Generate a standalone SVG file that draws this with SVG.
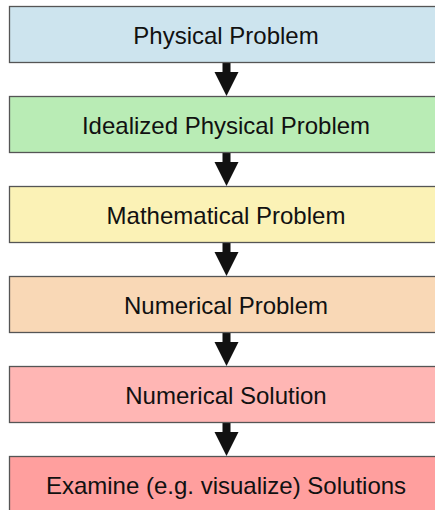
<svg xmlns="http://www.w3.org/2000/svg" width="435" height="510" viewBox="0 0 435 510">
<defs>
<style>
.box{stroke:#555;stroke-width:1.3}
.lbl{font-family:"Liberation Sans",Arial,sans-serif;font-size:24px;fill:#111;text-anchor:middle}
.arr{fill:#111}
</style>
</defs>
<rect width="435" height="510" fill="#fff"/>
<g id="connectors">
<path class="arr" d="M222.5,62 H230.5 V72 H238.5 L226.5,96 L214.5,72 H222.5 Z"/>
<path class="arr" d="M222.5,152 H230.5 V162 H238.5 L226.5,186 L214.5,162 H222.5 Z"/>
<path class="arr" d="M222.5,242 H230.5 V252 H238.5 L226.5,276 L214.5,252 H222.5 Z"/>
<path class="arr" d="M222.5,332 H230.5 V342 H238.5 L226.5,366 L214.5,342 H222.5 Z"/>
<path class="arr" d="M222.5,422 H230.5 V432 H238.5 L226.5,456 L214.5,432 H222.5 Z"/>
</g>
<g id="n1"><rect class="box" x="9.5" y="6.5" width="434" height="56" fill="#cde4ee"/><text class="lbl" x="226" y="43.5">Physical Problem</text></g>
<g id="n2"><rect class="box" x="9.5" y="96.5" width="434" height="56" fill="#b9ecb5"/><text class="lbl" x="226" y="133.5">Idealized Physical Problem</text></g>
<g id="n3"><rect class="box" x="9.5" y="186.5" width="434" height="56" fill="#fbf2b6"/><text class="lbl" x="226" y="223.5">Mathematical Problem</text></g>
<g id="n4"><rect class="box" x="9.5" y="276.5" width="434" height="56" fill="#f9d8b6"/><text class="lbl" x="226" y="313.5">Numerical Problem</text></g>
<g id="n5"><rect class="box" x="9.5" y="366.5" width="434" height="56" fill="#ffb6b4"/><text class="lbl" x="226" y="403.5">Numerical Solution</text></g>
<g id="n6"><rect class="box" x="9.5" y="456.5" width="434" height="56" fill="#ff9f9e"/><text class="lbl" x="226" y="493.5">Examine (e.g. visualize) Solutions</text></g>
</svg>
